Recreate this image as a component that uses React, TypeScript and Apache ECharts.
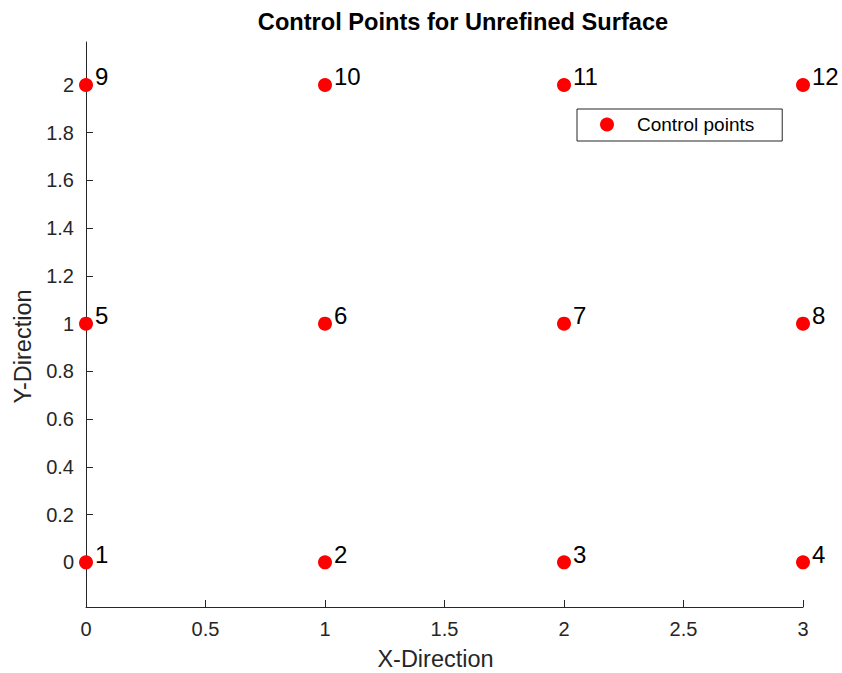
import React, { useEffect, useRef } from "react";
import * as echarts from "echarts";

const pointX = [0, 1, 2, 3, 0, 1, 2, 3, 0, 1, 2, 3];
const pointY = [0, 0, 0, 0, 1, 1, 1, 1, 2, 2, 2, 2];
const pointLabels = ["1", "2", "3", "4", "5", "6", "7", "8", "9", "10", "11", "12"];
const yTicks = [0, 0.2, 0.4, 0.6, 0.8, 1, 1.2, 1.4, 1.6, 1.8, 2];
const seriesName = "Control points";
const titleText = "Control Points for Unrefined Surface";

const FONT = "'Liberation Sans', Arial, Helvetica, sans-serif";
const AXIS = "#262626";

export default function App() {
  const ref = useRef<HTMLDivElement>(null);
  useEffect(() => {
    if (!ref.current) return;
    const chart = echarts.init(ref.current, null, { renderer: "svg" });
    chart.setOption({
      animation: false,
      backgroundColor: "#ffffff",
      title: {
        text: titleText,
        left: 463,
        top: 10,
        padding: 0,
        textAlign: "center",
        textStyle: { fontFamily: FONT, fontSize: 23.6, fontWeight: "bold", color: "#000" },
      },
      legend: {
        left: 577,
        top: 109,
        orient: "horizontal",
        padding: [6, 28, 7, 23],
        borderColor: AXIS,
        borderWidth: 1,
        backgroundColor: "#ffffff",
        itemWidth: 50,
        itemHeight: 14,
        icon: "circle",
        data: [seriesName],
        itemStyle: { color: "#ff0000", opacity: 1 },
        textStyle: { fontFamily: FONT, fontSize: 19, color: "#000", lineHeight: 19 },
      },
      grid: { left: 86, top: 42, width: 717, height: 565, outerBoundsMode: "none" },
      xAxis: {
        type: "value",
        min: 0,
        max: 3,
        interval: 0.5,
        name: "X-Direction",
        nameLocation: "middle",
        nameGap: 40,
        nameTextStyle: { fontFamily: FONT, fontSize: 23.5, color: AXIS, padding: [0, 18, 0, 0] },
        axisLine: { show: true, onZero: false, lineStyle: { color: AXIS, width: 1 } },
        axisTick: { show: true, inside: true, length: 7, lineStyle: { color: AXIS } },
        axisLabel: { fontFamily: FONT, fontSize: 20, color: AXIS, margin: 12 },
        splitLine: { show: false },
      },
      yAxis: {
        type: "value",
        min: -0.187,
        max: 2.18,
        name: "Y-Direction",
        nameLocation: "middle",
        nameGap: 44,
        nameTextStyle: { fontFamily: FONT, fontSize: 23.5, color: AXIS, padding: [0, 44, 0, 0] },
        axisLine: { show: true, onZero: false, lineStyle: { color: AXIS, width: 1 } },
        axisTick: { show: true, inside: true, length: 7, lineStyle: { color: AXIS }, customValues: yTicks },
        axisLabel: { fontFamily: FONT, fontSize: 20, color: AXIS, margin: 12, customValues: yTicks },
        splitLine: { show: false },
      },
      series: [
        {
          name: seriesName,
          type: "scatter",
          symbol: "circle",
          symbolSize: 14,
          itemStyle: { color: "#ff0000", opacity: 1 },
          data: pointX.map((x, i) => [x, pointY[i], pointLabels[i]]),
          label: {
            show: true,
            position: "right",
            distance: 2,
            offset: [0, -8],
            formatter: (p: any) => p.value[2],
            fontFamily: FONT,
            fontSize: 24,
            color: "#000",
            opacity: 1,
          },
          emphasis: { disabled: true },
          clip: false,
        },
      ],
    });
    return () => chart.dispose();
  }, []);
  return (
    <div
      ref={ref}
      style={{ position: "fixed", left: 0, top: 0, width: 842, height: 673 }}
    />
  );
}
